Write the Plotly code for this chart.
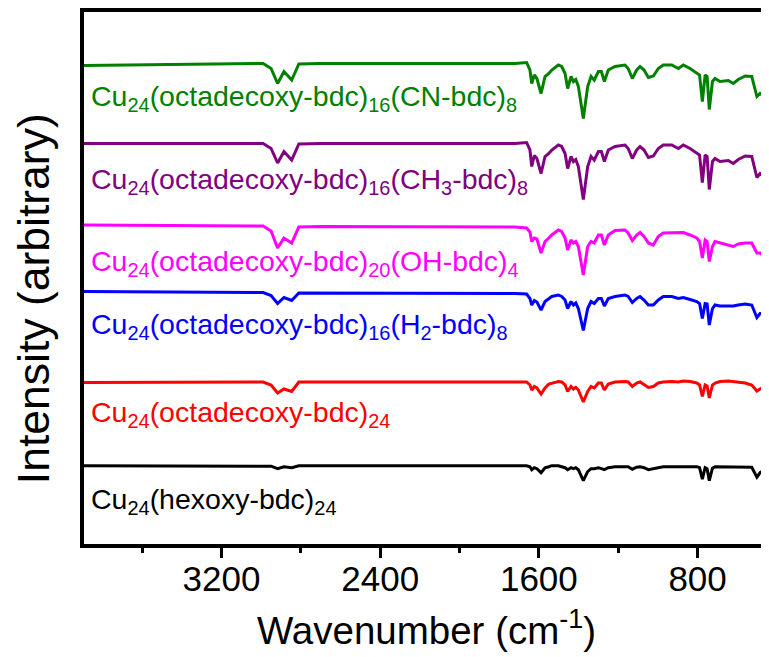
import plotly.graph_objects as go

# Wavenumber grid (cm^-1) shared by all spectra
wavenumber = [3900, 3100, 2990, 2950, 2917, 2885, 2846, 2810, 2700, 1720,
              1662, 1645, 1636, 1623, 1610, 1589, 1569, 1550, 1535, 1502,
              1485, 1468, 1455, 1438, 1426, 1414, 1401, 1376, 1354, 1337,
              1321, 1300, 1285, 1270, 1250, 1216, 1166, 1150, 1129, 1107,
              1090, 1070, 1048, 1023, 998, 973, 930, 897, 872, 838,
              804, 790, 776, 762, 752, 741, 725, 712, 687, 645,
              620, 595, 560, 527, 501, 485, 463, 440]

# Relative intensities (arbitrary units, 0 = baseline)
cn_bdc = [-2, -0.5, 0, -5, -20, -8, -16.5, -0.5, 0, 0,
          1, -6.5, -20, -11.5, -15, -30, -13, -10, -6.5, -1.5,
          -3, -10, -25, -13, -18, -16, -23, -55, -23, -13,
          -16.5, -8, -8, -18, -6.5, -3, -1.5, -5, -15, -6.5,
          -3, -6.5, -14, -12.5, -5, -1.5, -1.5, -5, -1.5, -5,
          -10, -11.5, -38, -11.5, -13, -46, -18, -15, -18, -17,
          -20, -16, -12.5, -13, -33, -30, -33, -23]
ch3_bdc = [0, 0, 0, -5, -19.5, -8, -16.5, -0.5, 0, 0,
           1, -6.5, -23, -12, -15, -30, -13, -10, -6.5, -1.5,
           -3, -10, -25, -13, -18, -16, -23, -56, -23, -13,
           -16.5, -8, -8, -18, -6.5, -3, -1.5, -5, -15, -6.5,
           -3, -6.5, -14, -12.5, -5, -1.5, -1.5, -5, -1.5, -5,
           -10, -11.5, -39, -11.5, -13, -46, -18, -15, -18, -17,
           -20, -16, -12.5, -13, -34, -30, -33, -25]
oh_bdc = [1, 0.5, 0, -5, -22, -12, -17, -1, -0.5, -1,
          -2, -6, -15.5, -12, -13, -27, -15.5, -12, -9, -4,
          -5.5, -12, -24, -14, -17, -15.5, -20.5, -49, -20.5, -15.5,
          -17, -9, -9, -19, -9, -4.5, -4, -7, -14.5, -9,
          -6.5, -10.5, -17, -19, -10.5, -7, -7, -6.5, -6.5, -9,
          -12, -15.5, -32, -14, -15.5, -35.5, -20.5, -15.5, -17, -19,
          -20.5, -18, -17, -17, -27, -27, -30.5, -24]
h2_bdc = [1, 0, 0, -3, -11, -5, -8, -0.5, -0.5, -1,
          -1.5, -6, -12.5, -8, -9.5, -17.5, -9, -6, -4, -2.5,
          -4, -7.5, -16, -9, -12.5, -10.5, -16, -38, -16, -9,
          -11, -6, -6, -13.5, -6, -4, -2.5, -4, -10, -6,
          -4, -7.5, -12.5, -12.5, -7.5, -4, -4, -6, -5, -7,
          -9, -11, -26, -11, -11.5, -32.5, -16, -12.5, -13.5, -13.5,
          -13.5, -12.5, -11.5, -12.5, -25, -21, -21, -17.5]
octadecoxy = [-0.5, 0, 0, -3, -11, -7, -9.5, 0, 0, 0,
              0, -3, -8, -4.5, -6, -12, -6, -2, -1, 0.5,
              0, -3, -9.5, -4.5, -7, -5.5, -8, -20, -9.5, -4.5,
              -6, -1, -1, -8, -2, 0, 0.5, 0, -4.5, -1,
              0, -3, -5.5, -4.5, -1, 0, 0.5, 0, 1, 0.5,
              -1, -3, -14.5, -3, -4, -16, -3, -1, 0.5, 1,
              0.5, 0, -1, -3, -9, -7, -4.5, -2]
hexoxy = [0, 0, 0, -0.5, -3, -1, -2, 0, 0, 0,
          0, -1, -4, -2, -3, -7, -2, -1, 0, 0,
          -1, -2, -4, -2, -3, -2, -4, -15, -6, -3,
          -3, -2, -3, -4, -2, -1, -1, -1, -3.5, -1.5,
          -1, -2, -4, -3, -1.5, -1, -1, -1, -0.5, -0.5,
          -1, -2, -13.5, -2, -3, -15, -2.5, -1, -1, -1,
          -1, -1, -1, -1.5, -11.5, -7, -4, -2.5]

series = [cn_bdc, ch3_bdc, oh_bdc, h2_bdc, octadecoxy, hexoxy]
offsets = [480.5, 400.5, 318, 251.5, 162, 78.3]
names = [
    "Cu<sub>24</sub>(octadecoxy-bdc)<sub>16</sub>(CN-bdc)<sub>8</sub>",
    "Cu<sub>24</sub>(octadecoxy-bdc)<sub>16</sub>(CH<sub>3</sub>-bdc)<sub>8</sub>",
    "Cu<sub>24</sub>(octadecoxy-bdc)<sub>20</sub>(OH-bdc)<sub>4</sub>",
    "Cu<sub>24</sub>(octadecoxy-bdc)<sub>16</sub>(H<sub>2</sub>-bdc)<sub>8</sub>",
    "Cu<sub>24</sub>(octadecoxy-bdc)<sub>24</sub>",
    "Cu<sub>24</sub>(hexoxy-bdc)<sub>24</sub>",
]
colors = ["#008000", "#800080", "#FF00FF", "#0000FF", "#FF0000", "#000000"]
label_y = [446, 363, 281, 218, 130, 43]

FONT = "Liberation Sans, Arial, sans-serif"

fig = go.Figure()
for vals, off, name, col in zip(series, offsets, names, colors):
    fig.add_trace(go.Scatter(
        x=wavenumber, y=[v + off for v in vals], mode="lines",
        line=dict(color=col, width=3), name=name, showlegend=False,
        hoverinfo="skip"))

for name, col, ly in zip(names, colors, label_y):
    fig.add_annotation(x=3868, y=ly, xref="x", yref="y", text=name,
                       showarrow=False, xanchor="left", yanchor="middle",
                       font=dict(family=FONT, size=28.5, color=col))

# y-axis title (placed as a rotated annotation to match the reference offset)
fig.add_annotation(x=-0.0745, y=0.462, xref="paper", yref="paper",
                   text="Intensity (arbitrary)", textangle=-90,
                   showarrow=False, xanchor="center", yanchor="middle",
                   font=dict(family=FONT, size=44.5, color="black"))

# page body adds an 8 px margin; figure sized to fill the 769x657 window
fig.update_layout(
    width=761, height=649,
    margin=dict(l=76, r=0, t=4, b=113, autoexpand=False),
    paper_bgcolor="white", plot_bgcolor="white",
    font=dict(family=FONT, color="black"),
)
fig.update_xaxes(
    range=[3893, 440], autorange=False, automargin=False,
    tickmode="array", tickvals=[3200, 2400, 1600, 800],
    ticktext=["3200", "2400", "1600", "800"],
    ticks="outside", ticklen=10, tickwidth=3, tickcolor="black",
    minor=dict(tickmode="array", tickvals=[3600, 2800, 2000, 1200],
               ticks="outside", ticklen=5, tickwidth=3, tickcolor="black"),
    showline=True, linewidth=4, linecolor="black", mirror=True,
    showgrid=False, zeroline=False, ticklabelstandoff=-9,
    tickfont=dict(family=FONT, size=35, color="black"),
    title=dict(text="Wavenumber (cm<sup>-1</sup>)",
               font=dict(family=FONT, size=38.5, color="black"), standoff=21),
)
fig.update_yaxes(
    range=[0, 532], autorange=False, automargin=False,
    showticklabels=False, ticks="",
    showline=True, linewidth=4, linecolor="black", mirror=False,
    showgrid=False, zeroline=False,
)

fig.write_html("out.html")
